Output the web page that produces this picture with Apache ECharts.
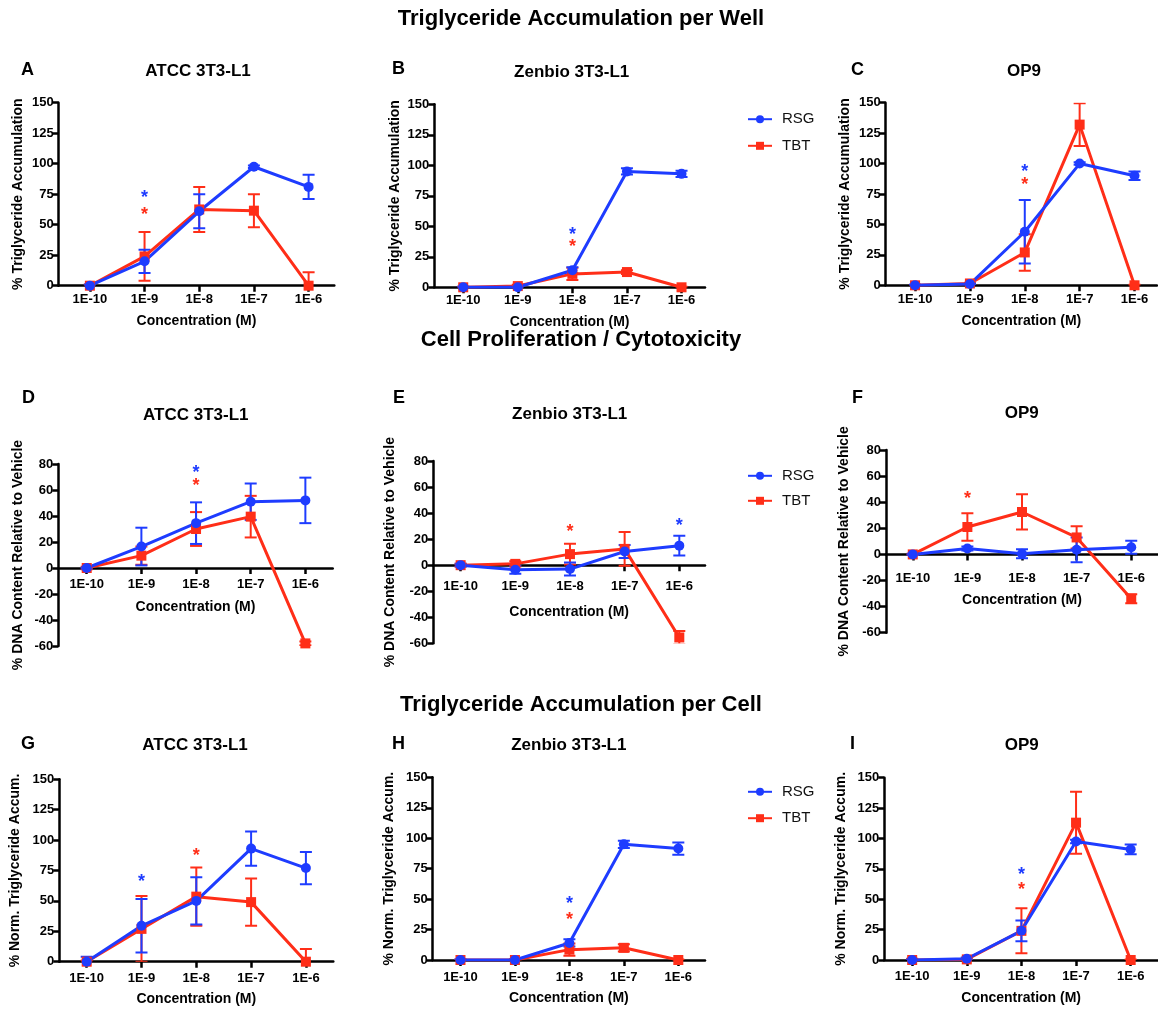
<!DOCTYPE html>
<html>
<head>
<meta charset="utf-8">
<title>Triglyceride Accumulation and Cell Proliferation</title>
<script src="https://cdn.jsdelivr.net/npm/echarts@6/dist/echarts.min.js"></script>
<style>
  html, body { margin: 0; padding: 0; background: #fff; }
  #chart { width: 1158px; height: 1010px; }
</style>
</head>
<body>
<div id="chart"></div>
<script>
// concentrations on the x axis
const categories = ['1E-10', '1E-9', '1E-8', '1E-7', '1E-6']

// A - ATCC 3T3-L1, TG per well
const rsgA = [0, 20, 61, 97.5, 81]
const rsgErrA = [1, 9.5, 14, 1, 10]
const tbtA = [0, 24, 62.5, 61.5, 0]
const tbtErrA = [1, 20, 18.5, 13.5, 11]
const starRsgA = [[1, 75]]
const starTbtA = [[1, 61.5]]

// B - Zenbio 3T3-L1, TG per well
const rsgB = [0, 0, 14, 95, 93]
const rsgErrB = [0.5, 0.5, 2.5, 2.5, 2.5]
const tbtB = [0, 1, 11, 12.5, 0]
const tbtErrB = [0.5, 1, 5, 1.5, 0.5]
const starRsgB = [[2, 46.5]]
const starTbtB = [[2, 36.5]]

// C - OP9, TG per well
const rsgC = [0, 1, 44, 100, 90]
const rsgErrC = [0.5, 0.5, 26, 1, 3.5]
const tbtC = [0, 1.5, 27, 132, 0]
const tbtErrC = [0.5, 0.5, 15, 17.5, 0.5]
const starRsgC = [[2, 96.5]]
const starTbtC = [[2, 86]]

// D - ATCC 3T3-L1, DNA content
const rsgD = [0, 16.5, 34.5, 51, 52]
const rsgErrD = [0.5, 14.5, 16, 14, 17.5]
const tbtD = [0, 9.5, 30, 39.5, -58]
const tbtErrD = [1, 7, 13, 16, 1.5]
const starRsgD = [[2, 76.5]]
const starTbtD = [[2, 66.5]]

// E - Zenbio 3T3-L1, DNA content
const rsgE = [0, -3.5, -3, 10.5, 15]
const rsgErrE = [1, 3, 5, 5, 7.5]
const tbtE = [0, 1, 8.5, 12.5, -55.5]
const tbtErrE = [1, 2, 8, 13, 5]
const starRsgE = [[4, 33.5]]
const starTbtE = [[2, 28.5]]

// F - OP9, DNA content
const rsgF = [0, 4.5, 0.5, 3.5, 5.5]
const rsgErrF = [0.5, 1.5, 3.5, 9.5, 5]
const tbtF = [0, 21, 32.5, 13, -34]
const tbtErrF = [0.5, 10.5, 13.5, 8.5, 3.5]
const starRsgF = []
const starTbtF = [[1, 45.5]]

// G - ATCC 3T3-L1, TG per cell
const rsgG = [0, 29.5, 50, 93, 77]
const rsgErrG = [4, 22, 19.5, 14, 13.3]
const tbtG = [0, 27, 53.5, 49, 0]
const tbtErrG = [1, 27, 24, 19.5, 10.5]
const starRsgG = [[1, 69]]
const starTbtG = [[2, 90.5]]

// H - Zenbio 3T3-L1, TG per cell
const rsgH = [0, 0, 14, 95, 91.5]
const rsgErrH = [0.5, 0.5, 3, 3, 5]
const tbtH = [0, 0, 8.5, 10, 0]
const tbtErrH = [0.5, 0.5, 5, 3, 0.5]
const starRsgH = [[2, 49.5]]
const starTbtH = [[2, 36.5]]

// I - OP9, TG per cell
const rsgI = [0, 1, 24, 97.5, 91]
const rsgErrI = [0.5, 1, 8.5, 1.5, 4]
const tbtI = [0, 0.5, 24, 113, 0]
const tbtErrI = [1, 0.5, 18.5, 25.5, 0.5]
const starRsgI = [[2, 73]]
const starTbtI = [[2, 60.5]]

const sectionTitles = ['Triglyceride Accumulation per Well', 'Cell Proliferation / Cytotoxicity', 'Triglyceride Accumulation per Cell']

const BLUE = '#1e3cff'
const RED = '#ff2e18'
const FONT = 'Liberation Sans, Arial, Helvetica, sans-serif'

const panels = [
  { letter: 'A', title: 'ATCC 3T3-L1', yName: '% Triglyceride Accumulation', yMin: 0, yMax: 150, yStep: 25,
    rsg: rsgA, rsgErr: rsgErrA, tbt: tbtA, tbtErr: tbtErrA, starRsg: starRsgA, starTbt: starTbtA,
    box: { left: 58.7, top: 102.7, right: 334.3, bottom: 285.7, xMin: -0.57, xMax: 4.47, titleX: 198, titleY: 71.7, letterX: 21, letterY: 70, labelGap: 7, nameGap: 28, yNameGap: 34 } },
  { letter: 'B', title: 'Zenbio 3T3-L1', yName: '% Triglyceride Accumulation', yMin: 0, yMax: 150, yStep: 25,
    rsg: rsgB, rsgErr: rsgErrB, tbt: tbtB, tbtErr: tbtErrB, starRsg: starRsgB, starTbt: starTbtB,
    box: { left: 434.3, top: 104.3, right: 705, bottom: 287.3, xMin: -0.53, xMax: 4.43, titleX: 571.7, titleY: 72.7, letterX: 392, letterY: 69, labelGap: 7, nameGap: 28, yNameGap: 32 } },
  { letter: 'C', title: 'OP9', yName: '% Triglyceride Accumulation', yMin: 0, yMax: 150, yStep: 25,
    rsg: rsgC, rsgErr: rsgErrC, tbt: tbtC, tbtErr: tbtErrC, starRsg: starRsgC, starTbt: starTbtC,
    box: { left: 885.7, top: 102.7, right: 1157, bottom: 285.3, xMin: -0.535, xMax: 4.41, titleX: 1024, titleY: 71.7, letterX: 851, letterY: 70, labelGap: 8, nameGap: 29, yNameGap: 34 } },
  { letter: 'D', title: 'ATCC 3T3-L1', yName: '% DNA Content Relative to Vehicle', yMin: -60, yMax: 80, yStep: 20,
    rsg: rsgD, rsgErr: rsgErrD, tbt: tbtD, tbtErr: tbtErrD, starRsg: starRsgD, starTbt: starTbtD,
    box: { left: 58.3, top: 464, right: 332.7, bottom: 646, xMin: -0.52, xMax: 4.5, titleX: 195.8, titleY: 415, letterX: 22, letterY: 398, labelGap: 10, nameGap: 32, yNameGap: 33 } },
  { letter: 'E', title: 'Zenbio 3T3-L1', yName: '% DNA Content Relative to Vehicle', yMin: -60, yMax: 80, yStep: 20,
    rsg: rsgE, rsgErr: rsgErrE, tbt: tbtE, tbtErr: tbtErrE, starRsg: starRsgE, starTbt: starTbtE,
    box: { left: 433.3, top: 461, right: 705, bottom: 643.3, xMin: -0.5, xMax: 4.47, titleX: 569.7, titleY: 414.3, letterX: 393, letterY: 398, labelGap: 15, nameGap: 40, yNameGap: 36 } },
  { letter: 'F', title: 'OP9', yName: '% DNA Content Relative to Vehicle', yMin: -60, yMax: 80, yStep: 20,
    rsg: rsgF, rsgErr: rsgErrF, tbt: tbtF, tbtErr: tbtErrF, starRsg: starRsgF, starTbt: starTbtF,
    box: { left: 886, top: 450, right: 1158, bottom: 632.7, xMin: -0.49, xMax: 4.49, titleX: 1021.7, titleY: 413.3, letterX: 852, letterY: 398, labelGap: 18, nameGap: 39, yNameGap: 35 } },
  { letter: 'G', title: 'ATCC 3T3-L1', yName: '% Norm. Triglyceride Accum.', yMin: 0, yMax: 150, yStep: 25,
    rsg: rsgG, rsgErr: rsgErrG, tbt: tbtG, tbtErr: tbtErrG, starRsg: starRsgG, starTbt: starTbtG,
    box: { left: 59.3, top: 779.3, right: 333.3, bottom: 961.7, xMin: -0.5, xMax: 4.5, titleX: 195, titleY: 745, letterX: 21, letterY: 744, labelGap: 10, nameGap: 30, yNameGap: 37 } },
  { letter: 'H', title: 'Zenbio 3T3-L1', yName: '% Norm. Triglyceride Accum.', yMin: 0, yMax: 150, yStep: 25,
    rsg: rsgH, rsgErr: rsgErrH, tbt: tbtH, tbtErr: tbtErrH, starRsg: starRsgH, starTbt: starTbtH,
    box: { left: 432.7, top: 777.3, right: 705, bottom: 960, xMin: -0.51, xMax: 4.49, titleX: 568.8, titleY: 745, letterX: 392, letterY: 744, labelGap: 11, nameGap: 31, yNameGap: 37 } },
  { letter: 'I', title: 'OP9', yName: '% Norm. Triglyceride Accum.', yMin: 0, yMax: 150, yStep: 25,
    rsg: rsgI, rsgErr: rsgErrI, tbt: tbtI, tbtErr: tbtErrI, starRsg: starRsgI, starTbt: starTbtI,
    box: { left: 884.3, top: 777.7, right: 1158, bottom: 960, xMin: -0.51, xMax: 4.5, titleX: 1021.7, titleY: 745, letterX: 850, letterY: 744, labelGap: 10, nameGap: 31, yNameGap: 36 } }
]

function renderErr (params, api) {
  const x = api.value(0)
  const hi = api.coord([x, api.value(2)])
  const lo = api.coord([x, api.value(1)])
  const style = { stroke: api.visual('color'), lineWidth: 2 }
  const cap = 6
  return {
    type: 'group',
    children: [
      { type: 'line', shape: { x1: hi[0], y1: hi[1], x2: lo[0], y2: lo[1] }, style: style },
      { type: 'line', shape: { x1: hi[0] - cap, y1: hi[1], x2: hi[0] + cap, y2: hi[1] }, style: style },
      { type: 'line', shape: { x1: lo[0] - cap, y1: lo[1], x2: lo[0] + cap, y2: lo[1] }, style: style }
    ]
  }
}

function renderStar (params, api) {
  const p = api.coord([api.value(0), api.value(1)])
  return {
    type: 'text',
    style: {
      text: '*', x: p[0], y: p[1] + 4, fill: api.visual('color'),
      fontSize: 18, fontWeight: 'bold', fontFamily: FONT,
      align: 'center', verticalAlign: 'middle'
    }
  }
}

const titles = []
const grids = []
const xAxes = []
const yAxes = []
const series = []

sectionTitles.forEach((t, i) => {
  titles.push({
    text: t, left: 581, top: [19, 340, 705][i], textAlign: 'center', textVerticalAlign: 'middle', padding: 0,
    textStyle: { fontSize: 22, fontWeight: 'bold', color: '#000', fontFamily: FONT }
  })
})

panels.forEach((p, i) => {
  const b = p.box
  const height = b.bottom - b.top
  // the x axis sits on y = 0, so lift the whole axis (line, ticks, labels, name) up to it
  const zeroY = b.top + height * p.yMax / (p.yMax - p.yMin)
  titles.push({
    text: p.title, left: b.titleX, top: b.titleY, textAlign: 'center', textVerticalAlign: 'middle', padding: 0,
    textStyle: { fontSize: 17, fontWeight: 'bold', color: '#000', fontFamily: FONT }
  })
  titles.push({
    text: p.letter, left: b.letterX, top: b.letterY, textAlign: 'left', textVerticalAlign: 'middle', padding: 0,
    textStyle: { fontSize: 18, fontWeight: 'bold', color: '#000', fontFamily: FONT }
  })
  grids.push({ left: b.left, top: b.top, width: b.right - b.left, height: height, containLabel: false })
  xAxes.push({
    gridIndex: i, type: 'value', min: b.xMin, max: b.xMax,
    offset: zeroY - b.bottom,
    name: 'Concentration (M)', nameLocation: 'middle', nameGap: b.nameGap,
    nameTextStyle: { fontSize: 14, fontWeight: 'bold', color: '#000', fontFamily: FONT },
    axisLine: { show: true, onZero: false, lineStyle: { color: '#000', width: 2.5 } },
    axisTick: { show: true, length: 6, customValues: [0, 1, 2, 3, 4], lineStyle: { color: '#000', width: 2.5 } },
    axisLabel: {
      customValues: [0, 1, 2, 3, 4], margin: b.labelGap,
      formatter: v => categories[Math.round(v)],
      fontSize: 13, fontWeight: 'bold', color: '#000', fontFamily: FONT
    },
    splitLine: { show: false }
  })
  yAxes.push({
    gridIndex: i, type: 'value', min: p.yMin, max: p.yMax, interval: p.yStep,
    name: p.yName, nameLocation: 'middle', nameGap: b.yNameGap,
    nameTextStyle: { fontSize: 14, fontWeight: 'bold', color: '#000', fontFamily: FONT },
    axisLine: { show: true, onZero: false, lineStyle: { color: '#000', width: 2.5 } },
    axisTick: { show: true, length: 6, lineStyle: { color: '#000', width: 2.5 } },
    axisLabel: { margin: 5, fontSize: 13, fontWeight: 'bold', color: '#000', fontFamily: FONT },
    splitLine: { show: false }
  })

  const groups = [
    { name: 'TBT', color: RED, symbol: 'rect', size: 10, vals: p.tbt, errs: p.tbtErr, stars: p.starTbt },
    { name: 'RSG', color: BLUE, symbol: 'circle', size: 10, vals: p.rsg, errs: p.rsgErr, stars: p.starRsg }
  ]
  groups.forEach(g => {
    series.push({
      type: 'custom', name: g.name + ' SEM', xAxisIndex: i, yAxisIndex: i,
      renderItem: renderErr, clip: true, silent: true,
      itemStyle: { color: g.color },
      encode: { x: 0, y: [1, 2] },
      data: g.vals.map((v, k) => [k, v - g.errs[k], v + g.errs[k]])
    })
    series.push({
      type: 'line', name: g.name, xAxisIndex: i, yAxisIndex: i,
      symbol: g.symbol, symbolSize: g.size, showSymbol: true,
      lineStyle: { color: g.color, width: 3 },
      itemStyle: { color: g.color },
      data: g.vals.map((v, k) => [k, v])
    })
  })
  groups.forEach(g => {
    series.push({
      type: 'custom', name: g.name + ' sig', xAxisIndex: i, yAxisIndex: i,
      renderItem: renderStar, silent: true,
      itemStyle: { color: g.color },
      data: g.stars
    })
  })
})

const legendTops = [111.7, 468.3, 784.3]
const legendGaps = [11.6, 10, 11.4]
const legends = legendTops.map((t, i) => ({
  data: ['RSG', 'TBT'], orient: 'vertical', left: 747, top: t, padding: 0,
  itemWidth: 24, itemHeight: 10, itemGap: legendGaps[i],
  textStyle: { fontSize: 15, color: '#111', fontFamily: FONT, padding: [0, 0, 0, 5] }
}))

const chart = echarts.init(document.getElementById('chart'))
chart.setOption({
  animation: false,
  backgroundColor: '#fff',
  title: titles,
  legend: legends,
  grid: grids,
  xAxis: xAxes,
  yAxis: yAxes,
  series: series
})
</script>
</body>
</html>
